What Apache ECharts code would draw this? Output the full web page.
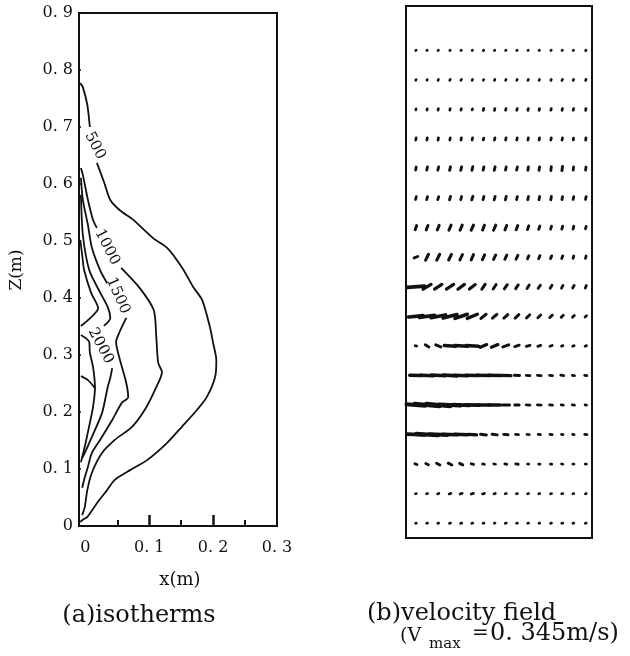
<!DOCTYPE html>
<html>
<head>
<meta charset="utf-8">
<title>isotherms / velocity field</title>
<script src="https://cdn.jsdelivr.net/npm/echarts@6.0.0/dist/echarts.min.js"></script>
<style>
  html, body { margin: 0; padding: 0; background: #fff; }
  #main { width: 630px; height: 656px; }
</style>
</head>
<body>
<div id="main"></div>
<script>
const serif = 'DejaVu Serif';
const ink = '#111';

// (a) isotherms, points are [x (m), z (m)], each level split where its label sits
const iso500a = [[-0.008, 0.777], [-0.004, 0.770], [0.003, 0.739], [0.007, 0.700]];
const iso500b = [[0.018, 0.637], [0.029, 0.604], [0.039, 0.572], [0.054, 0.554], [0.075, 0.537], [0.106, 0.505],
  [0.128, 0.488], [0.151, 0.454], [0.169, 0.419], [0.183, 0.396], [0.195, 0.349], [0.200, 0.321], [0.205, 0.291],
  [0.203, 0.261], [0.190, 0.226], [0.175, 0.204], [0.151, 0.174], [0.128, 0.146], [0.097, 0.116], [0.070, 0.098],
  [0.046, 0.081], [0.034, 0.063], [0.018, 0.040], [0.003, 0.016], [-0.004, 0.011], [-0.008, 0.007]];
const iso1000a = [[-0.007, 0.628], [-0.004, 0.616], [0.004, 0.572], [0.012, 0.537], [0.018, 0.523]];
const iso1000b = [[0.056, 0.453], [0.084, 0.419], [0.107, 0.379], [0.111, 0.332], [0.114, 0.286], [0.120, 0.270],
  [0.109, 0.239], [0.093, 0.204], [0.073, 0.174], [0.046, 0.151], [0.026, 0.128], [0.010, 0.093], [0.003, 0.063],
  [-0.001, 0.033], [-0.005, 0.019]];
const iso1500a = [[-0.007, 0.611], [-0.004, 0.572], [0.004, 0.528], [0.010, 0.489], [0.023, 0.449], [0.034, 0.426]];
const iso1500b = [[0.064, 0.365], [0.053, 0.339], [0.048, 0.323], [0.053, 0.296], [0.064, 0.251], [0.067, 0.226],
  [0.057, 0.216], [0.042, 0.186], [0.023, 0.151], [0.010, 0.128], [0.004, 0.104], [-0.002, 0.081], [-0.005, 0.067]];
const iso2000a = [[-0.007, 0.581], [-0.004, 0.511], [0.006, 0.449], [0.021, 0.414], [0.035, 0.384], [0.039, 0.365], [0.029, 0.351]];
const iso2000b = [[0.042, 0.277], [0.039, 0.260], [0.035, 0.244], [0.026, 0.198], [0.010, 0.156], [0.001, 0.133], [-0.005, 0.119]];
const isoInnerA = [[-0.008, 0.502], [-0.005, 0.475], [-0.002, 0.449], [0.009, 0.409], [0.020, 0.382], [0.004, 0.361], [-0.007, 0.351]];
const isoInnerB = [[-0.007, 0.335], [0.006, 0.323], [0.007, 0.304], [0.012, 0.279], [0.015, 0.242], [0.012, 0.209],
  [0.007, 0.181], [-0.001, 0.139], [-0.007, 0.112]];
const isoInnerC = [[-0.007, 0.263], [0.004, 0.256], [0.015, 0.242]];

const isoLabelText = ['500', '1000', '1500', '2000'];
const isoLabelPos = [[0.015, 0.667], [0.034, 0.489], [0.051, 0.404], [0.024, 0.316]];
const isoLabelAngle = [-63, -63, -66, -62];

const xTickLabels = [0, 0.1, 0.2, 0.3];
const xTicksShort = [0.05, 0.15, 0.25];
const xTicksLong = [0.1, 0.2];

// (b) velocity field: grid points and components u, w in m/s (rows bottom -> top)
const colX = [0.016, 0.034, 0.052, 0.071, 0.089, 0.107, 0.125, 0.143, 0.161, 0.179, 0.197, 0.215, 0.234, 0.252, 0.270, 0.290];
const rowZ = [0.025, 0.075, 0.125, 0.175, 0.225, 0.275, 0.325, 0.375, 0.425, 0.475, 0.525, 0.575, 0.625, 0.675, 0.725, 0.775, 0.825];
const uField = [
  [0.010, 0.012, 0.012, 0.014, 0.016, 0.014, 0.012, 0.010, 0.014, 0.012, 0.012, 0.010, 0.012, 0.014, 0.012, 0.012],
  [0.012, 0.016, 0.018, 0.022, 0.028, 0.030, 0.026, 0.018, 0.016, 0.016, 0.014, 0.014, 0.014, 0.016, 0.012, 0.012],
  [-0.030, -0.036, -0.046, -0.050, -0.044, -0.034, -0.026, -0.024, -0.028, -0.034, -0.016, -0.018, -0.020, -0.018, -0.016, -0.016],
  [-0.24, -0.30, -0.25, -0.21, -0.18, -0.12, -0.08, -0.07, -0.06, -0.04, -0.03, -0.03, -0.03, -0.02, -0.02, -0.03],
  [-0.26, -0.345, -0.33, -0.28, -0.23, -0.19, -0.17, -0.15, -0.10, -0.06, -0.05, -0.05, -0.04, -0.03, -0.03, -0.02],
  [-0.17, -0.19, -0.19, -0.19, -0.19, -0.18, -0.18, -0.17, -0.14, -0.07, -0.05, -0.05, -0.04, -0.04, -0.03, -0.03],
  [-0.02, -0.05, -0.07, -0.16, -0.18, -0.17, 0.09, 0.09, 0.08, 0.06, 0.05, 0.04, 0.03, 0.02, 0.02, 0.02],
  [0.20, 0.21, 0.20, 0.19, 0.17, 0.14, 0.07, 0.06, 0.055, 0.05, 0.045, 0.04, 0.035, 0.03, 0.025, 0.02],
  [0.24, 0.11, 0.10, 0.10, 0.09, 0.08, 0.045, 0.04, 0.04, 0.035, 0.03, 0.03, 0.025, 0.02, 0.02, 0.015],
  [0.050, 0.040, 0.040, 0.038, 0.035, 0.032, 0.030, 0.030, 0.028, 0.025, 0.020, 0.018, 0.016, 0.014, 0.010, 0.010],
  [0.020, 0.024, 0.026, 0.030, 0.030, 0.032, 0.026, 0.030, 0.024, 0.022, 0.018, 0.016, 0.012, 0.012, 0.010, 0.010],
  [0.010, 0.012, 0.012, 0.014, 0.012, 0.016, 0.012, 0.014, 0.012, 0.010, 0.010, 0.008, 0.008, 0.008, 0.008, 0.008],
  [0.008, 0.010, 0.012, 0.012, 0.012, 0.012, 0.010, 0.012, 0.010, 0.010, 0.008, 0.008, 0.006, 0.008, 0.006, 0.006],
  [0.006, 0.006, 0.006, 0.006, 0.006, 0.006, 0.006, 0.008, 0.006, 0.006, 0.006, 0.006, 0.006, 0.006, 0.004, 0.004],
  [0.004, 0.004, 0.006, 0.006, 0.006, 0.004, 0.008, 0.006, 0.006, 0.006, 0.006, 0.006, 0.006, 0.006, 0.006, 0.004],
  [0.006, 0.006, 0.006, 0.008, 0.008, 0.006, 0.006, 0.006, 0.006, 0.006, 0.006, 0.006, 0.006, 0.008, 0.006, 0.006],
  [0.006, 0.006, 0.006, 0.006, 0.006, 0.006, 0.006, 0.006, 0.006, 0.006, 0.004, 0.006, 0.006, 0.006, 0.006, 0.006]
];
const wField = [
  [0.002, 0.002, 0.004, 0.004, 0.004, 0.004, 0.002, 0.004, 0.004, 0.002, 0.002, 0.002, 0.004, 0.002, 0.004, 0.004],
  [0.004, 0.004, 0.006, 0.008, 0.010, 0.010, 0.008, 0.006, 0.004, 0.004, 0.004, 0.004, 0.004, 0.004, 0.004, 0.006],
  [0.012, 0.018, 0.026, 0.028, 0.022, 0.010, 0.004, 0.004, 0.006, 0.004, 0.002, 0.002, 0.002, 0.004, 0.002, 0.002],
  [0.010, 0.020, 0.012, 0.006, 0.006, 0.008, 0.010, 0.010, 0.006, 0.004, 0.004, 0.004, 0.004, 0.004, 0.004, 0.004],
  [0.020, 0.030, 0.030, 0.018, 0.008, 0.004, 0.002, 0.000, 0.002, 0.002, 0.002, 0.002, 0.002, 0.002, 0.002, 0.002],
  [0.004, 0.006, 0.010, 0.012, 0.006, 0.004, 0.004, 0.004, 0.004, 0.004, 0.004, 0.004, 0.004, 0.006, 0.004, 0.004],
  [0.006, 0.030, 0.030, 0.010, 0.010, 0.012, 0.040, 0.040, 0.030, 0.020, 0.016, 0.014, 0.012, 0.010, 0.008, 0.008],
  [0.020, 0.030, 0.040, 0.050, 0.060, 0.060, 0.060, 0.055, 0.050, 0.050, 0.045, 0.040, 0.035, 0.030, 0.025, 0.020],
  [0.020, 0.070, 0.070, 0.070, 0.070, 0.065, 0.070, 0.065, 0.060, 0.055, 0.050, 0.045, 0.045, 0.040, 0.035, 0.035],
  [0.020, 0.085, 0.085, 0.080, 0.075, 0.075, 0.070, 0.065, 0.060, 0.055, 0.045, 0.045, 0.040, 0.040, 0.035, 0.035],
  [0.060, 0.064, 0.066, 0.072, 0.074, 0.074, 0.070, 0.074, 0.064, 0.060, 0.054, 0.048, 0.044, 0.044, 0.040, 0.036],
  [0.040, 0.042, 0.044, 0.048, 0.046, 0.052, 0.046, 0.050, 0.048, 0.044, 0.046, 0.046, 0.048, 0.044, 0.040, 0.040],
  [0.044, 0.046, 0.048, 0.050, 0.050, 0.052, 0.048, 0.050, 0.046, 0.046, 0.050, 0.050, 0.056, 0.060, 0.046, 0.044],
  [0.030, 0.032, 0.034, 0.030, 0.030, 0.030, 0.028, 0.032, 0.030, 0.030, 0.032, 0.030, 0.030, 0.030, 0.028, 0.032],
  [0.016, 0.020, 0.022, 0.020, 0.020, 0.016, 0.028, 0.026, 0.024, 0.024, 0.026, 0.026, 0.024, 0.026, 0.024, 0.026],
  [0.010, 0.010, 0.012, 0.014, 0.014, 0.012, 0.010, 0.012, 0.012, 0.012, 0.012, 0.012, 0.014, 0.016, 0.014, 0.016],
  [0.006, 0.006, 0.006, 0.006, 0.006, 0.006, 0.008, 0.006, 0.006, 0.006, 0.004, 0.006, 0.006, 0.006, 0.006, 0.008]
];
const vectorTime = 0.117; // s, sets how long a vector is drawn in the field

const tickFmt = v => (v === 0 ? '0' : v.toFixed(1).replace('.', '. '));

const chart = echarts.init(document.getElementById('main'));

const isoSegments = [iso500a, iso500b, iso1000a, iso1000b, iso1500a, iso1500b, iso2000a, iso2000b, isoInnerA, isoInnerB, isoInnerC];

const vectorData = [];
rowZ.forEach((z, r) => {
  colX.forEach((x, c) => {
    vectorData.push([x, z, uField[r][c], wField[r][c]]);
  });
});

const labelData = isoLabelPos.map((p, i) => [p[0], p[1], isoLabelAngle[i]]);

const option = {
  animation: false,
  backgroundColor: '#fff',
  grid: [
    { left: 79, top: 13, width: 198, height: 513, show: true, borderColor: ink, borderWidth: 2 },
    { left: 406, top: 6, width: 186, height: 532, show: true, borderColor: ink, borderWidth: 2 }
  ],
  xAxis: [
    {
      gridIndex: 0, type: 'value', min: -0.01, max: 0.3, position: 'bottom',
      axisLine: { show: true, onZero: false, lineStyle: { color: ink, width: 2 } },
      axisTick: { show: true, inside: true, length: 6, customValues: xTicksShort, lineStyle: { color: ink, width: 2 } },
      axisLabel: { customValues: xTickLabels, formatter: tickFmt, margin: 14, color: ink, fontFamily: serif, fontSize: 16 },
      splitLine: { show: false }
    },
    {
      gridIndex: 0, type: 'value', min: -0.01, max: 0.3, position: 'bottom', offset: 0,
      axisLine: { show: false, onZero: false },
      axisTick: { show: true, inside: true, length: 11, customValues: xTicksLong, lineStyle: { color: ink, width: 2.5 } },
      axisLabel: { show: false },
      splitLine: { show: false }
    },
    { gridIndex: 1, type: 'value', min: 0, max: 0.3, show: false }
  ],
  yAxis: [
    {
      gridIndex: 0, type: 'value', min: 0, max: 0.9, interval: 0.1,
      axisLine: { show: true, onZero: false, lineStyle: { color: ink, width: 2 } },
      axisTick: { show: true, inside: true, length: 2, lineStyle: { color: ink, width: 1.5 } },
      axisLabel: { formatter: tickFmt, margin: 6, color: ink, fontFamily: serif, fontSize: 16 },
      splitLine: { show: false }
    },
    { gridIndex: 1, type: 'value', min: 0, max: 0.9, show: false }
  ],
  series: [
    ...isoSegments.map(seg => ({
      type: 'line',
      xAxisIndex: 0,
      yAxisIndex: 0,
      data: seg,
      showSymbol: false,
      smooth: 0.25,
      silent: true,
      lineStyle: { color: ink, width: 1.8 }
    })),
    {
      type: 'custom',
      xAxisIndex: 0,
      yAxisIndex: 0,
      silent: true,
      data: labelData,
      renderItem: (params, api) => {
        const p = api.coord([api.value(0), api.value(1)]);
        return {
          type: 'text',
          x: p[0],
          y: p[1],
          rotation: api.value(2) * Math.PI / 180,
          style: {
            text: isoLabelText[params.dataIndex],
            font: '15px ' + serif,
            fill: ink,
            align: 'center',
            verticalAlign: 'middle'
          }
        };
      }
    },
    {
      type: 'custom',
      xAxisIndex: 2,
      yAxisIndex: 1,
      silent: true,
      data: vectorData,
      renderItem: (params, api) => {
        const x = api.value(0), z = api.value(1), u = api.value(2), w = api.value(3);
        const a = api.coord([x - u * vectorTime / 2, z - w * vectorTime / 2]);
        const b = api.coord([x + u * vectorTime / 2, z + w * vectorTime / 2]);
        const speed = Math.sqrt(u * u + w * w);
        return {
          type: 'line',
          shape: { x1: a[0], y1: a[1], x2: b[0], y2: b[1] },
          style: { stroke: ink, lineWidth: 2.6 + speed * 5, lineCap: 'round' }
        };
      }
    }
  ],
  graphic: [
    { type: 'text', x: 17, y: 270, rotation: Math.PI / 2,
      style: { text: 'Z(m)', font: '17px ' + serif, fill: ink, align: 'center', verticalAlign: 'middle' } },
    { type: 'text', x: 180, y: 580,
      style: { text: 'x(m)', font: '18px ' + serif, fill: ink, align: 'center', verticalAlign: 'middle' } },
    { type: 'text', x: 139, y: 616,
      style: { text: '(a)isotherms', font: '24px ' + serif, fill: ink, align: 'center', verticalAlign: 'middle' } },
    { type: 'text', x: 367, y: 614,
      style: { text: '(b)velocity field', font: '24px ' + serif, fill: ink, align: 'left', verticalAlign: 'middle' } },
    { type: 'text', x: 400, y: 636,
      style: { text: '(V', font: '19px ' + serif, fill: ink, align: 'left', verticalAlign: 'middle' } },
    { type: 'text', x: 429, y: 644,
      style: { text: 'max', font: '15px ' + serif, fill: ink, align: 'left', verticalAlign: 'middle' } },
    { type: 'text', x: 472, y: 634,
      style: { text: '=', font: '20px ' + serif, fill: ink, align: 'left', verticalAlign: 'middle' } },
    { type: 'text', x: 490, y: 634,
      style: { text: '0. 345m/s)', font: '24px ' + serif, fill: ink, align: 'left', verticalAlign: 'middle' } }
  ]
};

chart.setOption(option);
</script>
</body>
</html>
